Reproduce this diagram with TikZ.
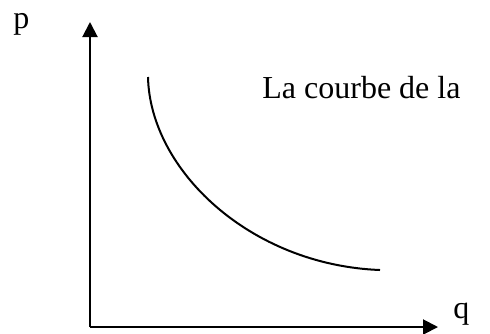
\documentclass[tikz,border=0pt]{standalone}
\usepackage{fontspec}
\setmainfont{Liberation Serif}
\usetikzlibrary{arrows.meta}
\begin{document}
\begin{tikzpicture}[x=0.5pt,y=-0.5pt,
  axis/.style={line width=1pt,-{Triangle[length=7.5pt,width=7.5pt]}},
  lbl/.style={inner sep=0pt,anchor=base west,font=\fontsize{16}{19}\selectfont},
  curve/.style={line width=1pt}]
\useasboundingbox (0,0) rectangle (490,333);
\coordinate (o) at (90,327);
\coordinate (ytop) at (90,22);
\coordinate (xend) at (438,327);
\draw[axis] (o) -- (ytop);
\draw[axis] (o) -- (xend);
\node[lbl] (p) at (13,28) {p};
\node[lbl] (q) at (453,318) {q};
\node[lbl] (t) at (262,98) {La courbe de la};
\coordinate (c1) at (148,77);
\coordinate (c2) at (380,270);
\draw[curve] (c1) .. controls (150,170) and (250,265) .. (c2);
\end{tikzpicture}
\end{document}
